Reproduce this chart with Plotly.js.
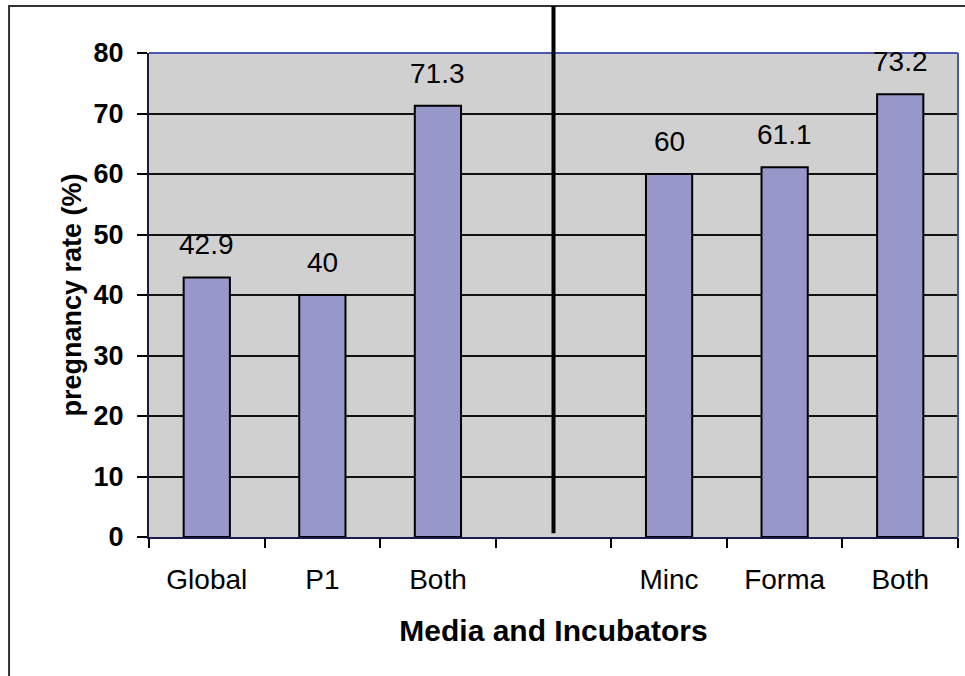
<!DOCTYPE html>
<html>
<head>
<meta charset="utf-8">
<script src="https://cdn.plot.ly/plotly-3.0.1.min.js"></script>
<style>html,body{margin:0;padding:0;background:#fff;}#chart{width:965px;height:676px;}</style>
</head>
<body>
<div id="chart"></div>
<script>
// Data
var categories = ["Global", "P1", "Both", "", "Minc", "Forma", "Both"];
var rates = [42.9, 40, 71.3, null, 60, 61.1, 73.2];
var rateLabels = ["42.9", "40", "71.3", "", "60", "61.1", "73.2"];
var yTicks = [0, 10, 20, 30, 40, 50, 60, 70, 80];
var dividerCategory = 3;

var positions = categories.map(function (c, i) { return i; });
var boundaries = [];
for (var b = -0.5; b <= categories.length - 0.5; b += 1) boundaries.push(b);

var FONT = "Liberation Sans, Arial, sans-serif";

var bars = {
  type: "bar",
  x: positions,
  y: rates,
  width: 0.4,
  marker: { color: "#9797c9", line: { color: "#000000", width: 2 } },
  hoverinfo: "skip",
  showlegend: false
};

// invisible trace to activate the boundary-tick axis
var tickTrace = {
  type: "scatter", x: [boundaries[0]], y: [0], xaxis: "x2", mode: "markers",
  marker: { opacity: 0 }, hoverinfo: "skip", showlegend: false
};

var annotations = [];
positions.forEach(function (p, i) {
  if (rates[i] === null) return;
  annotations.push({
    x: p, y: rates[i], xref: "x", yref: "y",
    text: rateLabels[i], showarrow: false,
    yanchor: "bottom", yshift: 15,
    font: { family: FONT, size: 28, color: "#000" }
  });
});

var shapes = [
  // outer frame
  { type: "rect", xref: "paper", yref: "paper", x0: -0.173, x1: 1.2, y0: -0.4, y1: 1.097,
    line: { color: "#333333", width: 2 }, layer: "below" },
  // top and right plot border (blue)
  { type: "line", xref: "paper", yref: "paper", x0: 0, x1: 1, y0: 1, y1: 1,
    line: { color: "#4a58b0", width: 2 } },
  { type: "line", xref: "paper", yref: "paper", x0: 1, x1: 1, y0: 0, y1: 1,
    line: { color: "#4a58b0", width: 2 } },
  // divider line
  { type: "line", xref: "x", yref: "paper", x0: dividerCategory, x1: dividerCategory, y0: 0.008, y1: 1.097,
    line: { color: "#000000", width: 4 } }
];

var layout = {
  width: 965, height: 676,
  margin: { l: 149, r: 7, t: 53, b: 139 },
  paper_bgcolor: "#ffffff",
  plot_bgcolor: "#d0d0d0",
  bargap: 0.6,
  xaxis: {
    range: [-0.5, categories.length - 0.5],
    tickmode: "array", tickvals: positions, ticktext: categories,
    ticks: "", showgrid: false, zeroline: false,
    showline: true, linecolor: "#1a1a50", linewidth: 2,
    tickfont: { family: FONT, size: 28, color: "#000" },
    ticklabelstandoff: 16,
    title: { text: "<b>Media and Incubators</b>", font: { family: FONT, size: 30, color: "#000" }, standoff: 26 },
    fixedrange: true
  },
  xaxis2: {
    overlaying: "x", side: "bottom", anchor: "y",
    range: [-0.5, categories.length - 0.5],
    tickmode: "array", tickvals: boundaries, ticktext: boundaries.map(function () { return ""; }),
    ticks: "outside", ticklen: 10, tickwidth: 2, tickcolor: "#000",
    showgrid: false, zeroline: false, showline: false, fixedrange: true
  },
  yaxis: {
    range: [0, 80],
    tickmode: "array", tickvals: yTicks, ticktext: yTicks.map(function (v) { return "<b>" + v + "</b>"; }),
    ticks: "outside", ticklen: 10, tickwidth: 2, tickcolor: "#000",
    showgrid: true, gridcolor: "#111111", gridwidth: 2,
    zeroline: false, showline: true, linecolor: "#1a1a3a", linewidth: 2,
    tickfont: { family: FONT, size: 27, color: "#000" },
    ticklabelstandoff: 8,
    title: { text: "<b>pregnancy rate (%)</b>", font: { family: FONT, size: 27, color: "#000" }, standoff: 4 },
    fixedrange: true
  },
  annotations: annotations,
  shapes: shapes,
  showlegend: false
};

Plotly.newPlot("chart", [bars, tickTrace], layout, { displayModeBar: false, staticPlot: true });
</script>
</body>
</html>
